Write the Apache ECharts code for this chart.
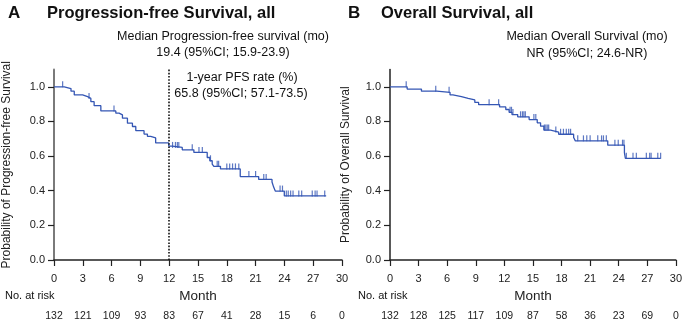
<!DOCTYPE html>
<html>
<head>
<meta charset="utf-8">
<script src="https://cdn.jsdelivr.net/npm/echarts@6/dist/echarts.min.js"></script>
<style>
  html, body { margin: 0; padding: 0; background: #fff; }
  #main { width: 685px; height: 322px; }
</style>
</head>
<body>
<div id="main"></div>
<script>
// month ticks and numbers at risk
var monthTicks = [0, 3, 6, 9, 12, 15, 18, 21, 24, 27, 30];
var pfsAtRisk = [132, 121, 109, 93, 83, 67, 41, 28, 15, 6, 0];
var osAtRisk = [132, 128, 125, 117, 109, 87, 58, 36, 23, 69, 0];
var probTicks = [0, 0.2, 0.4, 0.6, 0.8, 1.0];

// KM steps [month, survival after drop]
var pfsSteps = [
  [0, 1.0], [1.07, 0.99], [1.77, 0.975], [2.11, 0.953], [2.98, 0.943],
  [3.5, 0.933], [3.84, 0.914], [4.18, 0.891], [4.88, 0.861], [6.44, 0.848],
  [6.78, 0.838], [7.13, 0.819], [7.65, 0.79], [8.17, 0.771], [8.52, 0.747],
  [9.38, 0.727], [9.73, 0.714], [10.07, 0.705], [10.59, 0.676], [11.95, 0.658],
  [12.33, 0.65], [13.36, 0.636], [14.57, 0.621], [15.96, 0.592], [16.23, 0.573],
  [16.48, 0.554], [16.65, 0.541], [17.34, 0.526], [19.4, 0.482], [21.32, 0.465],
  [22.71, 0.45], [22.88, 0.421], [23.05, 0.398], [23.99, 0.37], [28.35, 0.37]
];
var pfsCensor = [0.9, 3.65, 6.25, 12.35, 12.65, 12.85, 13.0, 14.4, 15.1, 15.45,
  16.3, 17.0, 17.15, 18.0, 18.3, 18.6, 18.9, 19.25, 20.3, 21.0, 21.85, 22.1,
  23.55, 23.8, 24.2, 24.4, 24.65, 24.9, 25.5, 25.8, 26.9, 27.2, 27.4, 28.2];

var osSteps = [
  [0, 1.0], [1.8, 0.987], [3.3, 0.975], [4.9, 0.968], [6.3, 0.953], [6.6, 0.943],
  [7.5, 0.933], [8.2, 0.924], [8.9, 0.91], [9.3, 0.897], [11.5, 0.884],
  [12.15, 0.869], [12.5, 0.853], [12.8, 0.84], [13.4, 0.827], [14.6, 0.811],
  [15.45, 0.792], [15.8, 0.773], [16.15, 0.75], [16.85, 0.739], [17.7, 0.726],
  [19.27, 0.707], [19.45, 0.688], [22.85, 0.663], [24.6, 0.62], [24.7, 0.587],
  [28.4, 0.587]
];
var osCensor = [1.7, 4.8, 6.2, 10.4, 11.4, 12.6, 12.75, 12.9, 13.7, 13.9, 14.05,
  14.2, 15.1, 15.3, 16.2, 16.35, 16.5, 16.65, 17.4, 17.9, 18.2, 18.5, 18.75,
  18.95, 19.7, 20.3, 20.65, 21.0, 21.8, 22.2, 22.4, 22.7, 23.6, 23.95, 24.4,
  24.55, 24.8, 25.5, 25.85, 26.9, 27.25, 27.4, 28.1, 28.4];

var FONT = "Liberation Sans, Arial, sans-serif";
var BLUE = "#3456b4";

// survival value at time t (step lookup)
function survAt(steps, t) {
  var s = steps[0][1];
  for (var i = 0; i < steps.length; i++) {
    if (steps[i][0] <= t) s = steps[i][1];
  }
  return s;
}
function censorData(steps, times) {
  return times.map(function (t) { return [t, survAt(steps, t)]; });
}

function mainX(grid) {
  return {
    gridIndex: grid, type: "value", min: 0, max: 30, interval: 3,
    name: "Month", nameLocation: "middle", nameGap: 26,
    nameTextStyle: { fontFamily: FONT, fontSize: 13.5, color: "#222" },
    axisLine: { show: true, onZero: false, lineStyle: { color: "#222", width: 1.5 } },
    axisTick: { show: true, length: 6, lineStyle: { color: "#222", width: 1.2 } },
    axisLabel: { fontFamily: FONT, fontSize: 11, color: "#222", margin: 13 },
    splitLine: { show: false }
  };
}
function riskX(grid, arr) {
  return {
    gridIndex: grid, type: "value", min: 0, max: 30, interval: 3, position: "bottom",
    axisLine: { show: false }, axisTick: { show: false }, splitLine: { show: false },
    axisLabel: {
      fontFamily: "Liberation Sans Narrow, " + FONT, fontSize: 10.5, color: "#222", margin: 51,
      formatter: function (v) { return String(arr[monthTicks.indexOf(v)]); }
    }
  };
}
function mainY(grid, name, axisColor, axisWidth, gap) {
  return {
    gridIndex: grid, type: "value", min: 0, max: 1.1,
    name: name, nameLocation: "middle", nameGap: gap,
    nameTextStyle: { fontFamily: FONT, fontSize: 12, color: "#222" },
    axisLine: { show: true, lineStyle: { color: axisColor, width: axisWidth } },
    axisTick: { show: true, length: 6, customValues: probTicks, lineStyle: { color: "#222", width: 1.2 } },
    axisLabel: {
      fontFamily: FONT, fontSize: 11, color: "#222", margin: 9, customValues: probTicks,
      formatter: function (v) { return v.toFixed(1); }
    },
    splitLine: { show: false }
  };
}

function txt(x, y, text, size, bold, align) {
  return {
    type: "text", x: x, y: y,
    style: {
      text: text, fontFamily: FONT, fontSize: size, fontWeight: bold ? "bold" : "normal",
      fill: "#111", textAlign: align || "center", textVerticalAlign: "middle"
    }
  };
}

var chart = echarts.init(document.getElementById("main"));
chart.setOption({
  animation: false,
  backgroundColor: "#fff",
  grid: [
    { left: 53, right: 343, top: 69.5, bottom: 60 },
    { left: 390, right: 7, top: 69.5, bottom: 60 }
  ],
  xAxis: [mainX(0), mainX(1), riskX(0, pfsAtRisk), riskX(1, osAtRisk)],
  yAxis: [
    mainY(0, "Probability of Progression-free Survival", "#7a7a7a", 2, 41),
    mainY(1, "Probability of Overall Survival", "#222", 1.5, 38)
  ],
  graphic: [
    txt(8, 13, "A", 17, true, "left"),
    txt(47, 13, "Progression-free Survival, all", 16.5, true, "left"),
    txt(348, 13, "B", 17, true, "left"),
    txt(381, 13, "Overall Survival, all", 16.5, true, "left"),
    txt(223, 37, "Median Progression-free survival (mo)", 12.5),
    txt(223, 53, "19.4 (95%CI; 15.9-23.9)", 12.5),
    txt(242, 78, "1-year PFS rate (%)", 12.5),
    txt(241, 94, "65.8 (95%CI; 57.1-73.5)", 12.5),
    txt(587, 37, "Median Overall Survival (mo)", 12.5),
    txt(587, 54, "NR (95%CI; 24.6-NR)", 12.5),
    txt(5, 296, "No. at risk", 11, false, "left"),
    txt(358, 296, "No. at risk", 11, false, "left")
  ],
  series: [
    {
      type: "line", xAxisIndex: 0, yAxisIndex: 0, step: "end", showSymbol: false,
      data: pfsSteps, lineStyle: { color: BLUE, width: 1.3 },
      markLine: {
        silent: true, symbol: "none", label: { show: false },
        lineStyle: { color: "#111", type: "dotted", width: 1.6 },
        data: [{ xAxis: 12 }]
      }
    },
    {
      type: "scatter", xAxisIndex: 0, yAxisIndex: 0, data: censorData(pfsSteps, pfsCensor),
      symbol: "rect", symbolSize: [1.2, 6], symbolOffset: [0, -2.5],
      itemStyle: { color: BLUE }
    },
    {
      type: "line", xAxisIndex: 1, yAxisIndex: 1, step: "end", showSymbol: false,
      data: osSteps, lineStyle: { color: BLUE, width: 1.3 }
    },
    {
      type: "scatter", xAxisIndex: 1, yAxisIndex: 1, data: censorData(osSteps, osCensor),
      symbol: "rect", symbolSize: [1.2, 6], symbolOffset: [0, -2.5],
      itemStyle: { color: BLUE }
    }
  ]
});
</script>
</body>
</html>
